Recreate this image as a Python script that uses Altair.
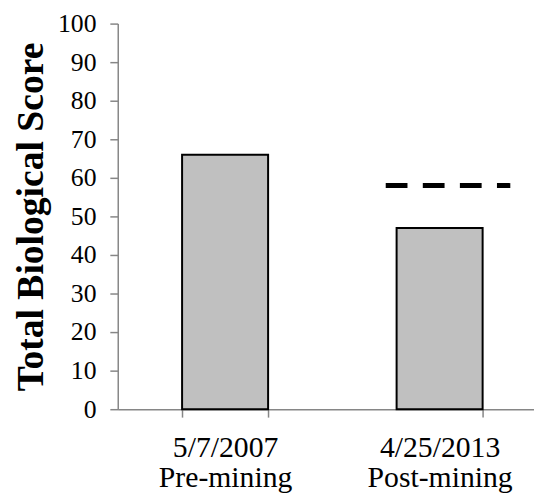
import altair as alt
import pandas as pd

# ---- data ----
dates = ["5/7/2007", "4/25/2013"]
phases = ["Pre-mining", "Post-mining"]
scores = [66, 47]
threshold_date = "4/25/2013"
threshold_value = 58
y_ticks = list(range(0, 101, 10))

cats = [f"{d}|{p}" for d, p in zip(dates, phases)]
bars_df = pd.DataFrame({"cat": cats, "score": scores})
thr_df = pd.DataFrame({"cat": [cats[dates.index(threshold_date)]], "value": [threshold_value]})

FONT = "Liberation Serif"
GRAY = "#868686"

xscale = alt.Scale(domain=cats, paddingInner=0.599, paddingOuter=0.2697, align=0.556)
yscale = alt.Scale(domain=[0, 100], nice=False)

x_axis = alt.Axis(
    title=None, labelExpr="split(datum.label, '|')", labelAngle=0,
    tickBand="extent", domainColor=GRAY, tickColor=GRAY, domainWidth=1.5,
    tickWidth=1.5, tickSize=8, labelFont=FONT, labelFontSize=30,
    labelColor="#000000", labelPadding=16, labelLineHeight=30,
    labelBaseline="top", labelLimit=0, labelOverlap=False)
y_axis = alt.Axis(
    values=y_ticks, title="Total Biological Score", grid=False,
    domainColor=GRAY, tickColor=GRAY, domainWidth=1.5, tickWidth=1.5,
    tickSize=8, labelFont=FONT, labelFontSize=26, labelColor="#000000",
    labelPadding=14, labelOverlap=False, labelFlush=False,
    titleFont=FONT, titleFontSize=38, titleFontWeight="bold",
    titleColor="#000000", titleX=-76, titleY=195, titleAngle=270,
    titleBaseline="alphabetic", titleAlign="center")

bars = alt.Chart(bars_df).mark_bar(
    color="#C0C0C0", stroke="#000000", strokeWidth=2
).encode(
    x=alt.X("cat:N", scale=xscale, sort=cats, axis=x_axis),
    y=alt.Y("score:Q", scale=yscale, axis=y_axis),
)

rule = alt.Chart(thr_df).mark_rule(
    color="#000000", strokeWidth=5, strokeDash=[22, 15.5], strokeCap="butt",
    xOffset=-11, x2Offset=28
).encode(
    x=alt.X("cat:N", scale=xscale, sort=cats, bandPosition=0, axis=x_axis),
    x2=alt.X2(field="cat", bandPosition=1),
    y=alt.Y("value:Q", scale=yscale, axis=y_axis),
)

chart = alt.layer(bars, rule).properties(
    width=421, height=390,
    autosize=alt.AutoSizeParams(type="none"),
    padding={"left": 111, "top": 13, "right": 0, "bottom": 85},
).configure_view(stroke=None)

chart.save("out.html", embed_options={"renderer": "svg", "actions": False})
